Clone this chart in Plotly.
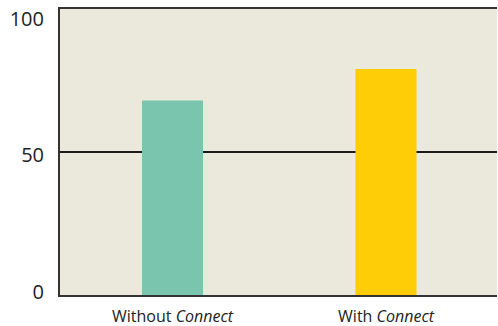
import plotly.graph_objects as go

categories = ["Without <i>Connect</i>", "With <i>Connect</i>"]
values = [68, 79]
colors = ["#7AC5AE", "#FFCC08"]
y_ticks = [0, 50, 100]

fig = go.Figure()
fig.add_trace(go.Bar(
    x=[0, 1], y=values, marker=dict(color=colors, line=dict(width=0)),
    width=0.286, showlegend=False,
))
# invisible helper trace carrying the tick-label axis
fig.add_trace(go.Scatter(x=[0], y=[0], yaxis="y2", mode="markers",
                         marker=dict(opacity=0), showlegend=False, hoverinfo="skip"))

fig.update_layout(
    width=498, height=326,
    margin=dict(l=60, r=1, t=9, b=31),
    paper_bgcolor="white",
    plot_bgcolor="#EBE8DC",
    font=dict(family="Open Sans, Liberation Sans, sans-serif", color="#222"),
    xaxis=dict(
        range=[-0.527, 1.52], tickvals=[0, 1], ticktext=categories,
        showgrid=False, zeroline=False,
        showline=True, linecolor="#333", linewidth=2, mirror=True,
        tickfont=dict(size=16), ticks="", ticklabelstandoff=6,
        ticklabeloverflow="allow", automargin=False,
    ),
    yaxis=dict(
        range=[0, 100], tickvals=y_ticks, showticklabels=False,
        showgrid=True, gridcolor="#1a1a1a", gridwidth=2,
        zeroline=False, showline=True, linecolor="#333", linewidth=2,
        ticks="", automargin=False,
    ),
    yaxis2=dict(
        overlaying="y", side="left", anchor="x",
        range=[-1.1, 103.66], tickvals=y_ticks,
        showgrid=False, zeroline=False, showline=False,
        tickfont=dict(size=20), ticks="", ticklabelstandoff=15,
        ticklabeloverflow="allow", automargin=False,
    ),
)

fig.write_html("out.html")
